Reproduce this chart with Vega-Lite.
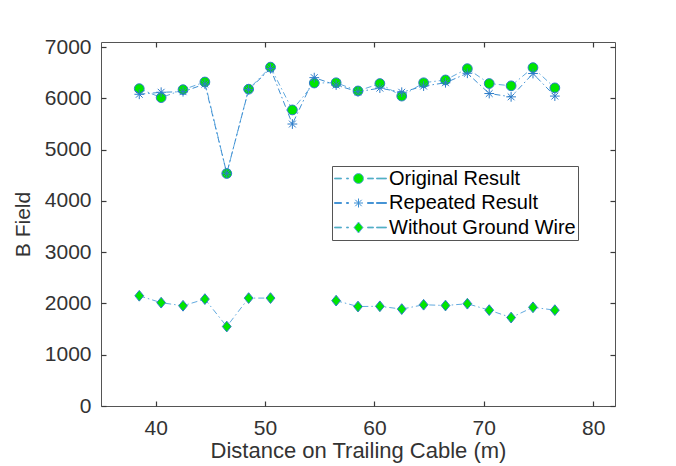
{
"$schema": "https://vega.github.io/schema/vega-lite/v6.json",
"width": 514, "height": 364,
"autosize": {"type": "none"},
"padding": {"left": 101, "top": 42, "right": 61, "bottom": 60},
"background": "white",
"config": {
  "view": {"stroke": "#555", "strokeWidth": 1},
  "font": "Liberation Sans",
  "axis": {"labelFont": "Liberation Sans", "titleFont": "Liberation Sans", "labelFontSize": 21, "titleFontSize": 21, "titleFontWeight": "normal", "labelColor": "#333", "titleColor": "#333", "domainColor": "#555", "tickColor": "#3a3a3a", "ticks": true, "tickWidth": 1.2, "zindex": 1, "grid": false}
},
"data": {"values": [
{"d":38.5,"s":"Original Result","b":6190},{"d":40.5,"s":"Original Result","b":6015},{"d":42.5,"s":"Original Result","b":6170},{"d":44.5,"s":"Original Result","b":6320},{"d":46.5,"s":"Original Result","b":4535},{"d":48.5,"s":"Original Result","b":6180},{"d":50.5,"s":"Original Result","b":6610},{"d":52.5,"s":"Original Result","b":5775},{"d":54.5,"s":"Original Result","b":6300},{"d":56.5,"s":"Original Result","b":6305},{"d":58.5,"s":"Original Result","b":6145},{"d":60.5,"s":"Original Result","b":6290},{"d":62.5,"s":"Original Result","b":6045},{"d":64.5,"s":"Original Result","b":6305},{"d":66.5,"s":"Original Result","b":6360},{"d":68.5,"s":"Original Result","b":6580},{"d":70.5,"s":"Original Result","b":6290},{"d":72.5,"s":"Original Result","b":6245},{"d":74.5,"s":"Original Result","b":6600},{"d":76.5,"s":"Original Result","b":6205},
{"d":38.5,"s":"Repeated Result","b":6080},{"d":40.5,"s":"Repeated Result","b":6120},{"d":42.5,"s":"Repeated Result","b":6130},{"d":44.5,"s":"Repeated Result","b":6280},{"d":46.5,"s":"Repeated Result","b":4540},{"d":48.5,"s":"Repeated Result","b":6170},{"d":50.5,"s":"Repeated Result","b":6580},{"d":52.5,"s":"Repeated Result","b":5500},{"d":54.5,"s":"Repeated Result","b":6405},{"d":56.5,"s":"Repeated Result","b":6260},{"d":58.5,"s":"Repeated Result","b":6130},{"d":60.5,"s":"Repeated Result","b":6200},{"d":62.5,"s":"Repeated Result","b":6120},{"d":64.5,"s":"Repeated Result","b":6240},{"d":66.5,"s":"Repeated Result","b":6305},{"d":68.5,"s":"Repeated Result","b":6490},{"d":70.5,"s":"Repeated Result","b":6095},{"d":72.5,"s":"Repeated Result","b":6030},{"d":74.5,"s":"Repeated Result","b":6485},{"d":76.5,"s":"Repeated Result","b":6045},
{"d":38.5,"s":"Without Ground Wire","b":2150},{"d":40.5,"s":"Without Ground Wire","b":2015},{"d":42.5,"s":"Without Ground Wire","b":1955},{"d":44.5,"s":"Without Ground Wire","b":2085},{"d":46.5,"s":"Without Ground Wire","b":1550},{"d":48.5,"s":"Without Ground Wire","b":2105},{"d":50.5,"s":"Without Ground Wire","b":2105},{"d":52.5,"s":"Without Ground Wire","b":null},{"d":54.5,"s":"Without Ground Wire","b":null},{"d":56.5,"s":"Without Ground Wire","b":2055},{"d":58.5,"s":"Without Ground Wire","b":1940},{"d":60.5,"s":"Without Ground Wire","b":1945},{"d":62.5,"s":"Without Ground Wire","b":1890},{"d":64.5,"s":"Without Ground Wire","b":1975},{"d":66.5,"s":"Without Ground Wire","b":1960},{"d":68.5,"s":"Without Ground Wire","b":1995},{"d":70.5,"s":"Without Ground Wire","b":1870},{"d":72.5,"s":"Without Ground Wire","b":1725},{"d":74.5,"s":"Without Ground Wire","b":1925},{"d":76.5,"s":"Without Ground Wire","b":1870}
]},
"layer": [
 {
  "mark": {"type": "line", "strokeWidth": 1, "strokeDash": [6, 3, 1.5, 3]},
  "encoding": {
   "x": {"field": "d", "type": "quantitative", "scale": {"domain": [35, 82], "nice": false, "zero": false},
         "axis": {"orient": "bottom", "offset": -5, "domain": false, "values": [40, 50, 60, 70, 80], "title": "Distance on Trailing Cable (m)", "titleFontSize": 22, "tickSize": 5, "labelPadding": 11, "titlePadding": 2}},
   "y": {"field": "b", "type": "quantitative", "scale": {"domain": [0, 7100], "nice": false},
         "axis": {"orient": "left", "offset": -5, "domain": false, "format": "d", "values": [0, 1000, 2000, 3000, 4000, 5000, 6000, 7000], "title": "B Field", "tickSize": 5, "labelPadding": 10, "titlePadding": 11}},
   "color": {"field": "s", "type": "nominal", "scale": {"domain": ["Original Result", "Repeated Result", "Without Ground Wire"], "range": ["#62aadf", "#3d8fd3", "#62aadf"]},
     "legend": {"orient": "none", "legendX": 231, "legendY": 124, "title": null, "symbolSize": 400, "symbolStrokeWidth": 1, "labelFontSize": 20, "labelFont": "Liberation Sans", "labelColor": "#000", "strokeColor": "#555", "fillColor": "white", "padding": 2, "rowPadding": 3.5, "labelOffset": 34, "labelLimit": 300,
       "encode": {"symbols": {"update": {
         "shape": {"signal": "datum.value === 'Original Result' ? 'M-1,-0.04H-0.3V0.04H-1ZM0.2,-0.04H0.4V0.04H0.2ZM1.9,0A0.5,0.5,0,1,1,0.9,0A0.5,0.5,0,1,1,1.9,0ZM2.3,-0.04H2.9V0.04H2.3ZM3.2,-0.04H4.2V0.04H3.2Z' : datum.value === 'Repeated Result' ? 'M-1,-0.04H-0.3V0.04H-1ZM0.2,-0.04H0.4V0.04H0.2ZM0.95,0H1.85M1.4,-0.45V0.45M1.08,-0.32L1.72,0.32M1.08,0.32L1.72,-0.32M2.3,-0.04H2.9V0.04H2.3ZM3.2,-0.04H4.2V0.04H3.2Z' : 'M-1,-0.04H-0.3V0.04H-1ZM0.2,-0.04H0.4V0.04H0.2ZM1.4,-0.55L1.85,0L1.4,0.55L0.95,0ZM2.3,-0.04H2.9V0.04H2.3ZM3.2,-0.04H4.2V0.04H3.2Z'"},
         "fill": {"signal": "datum.value === 'Repeated Result' ? '#4a98d8' : '#00e600'"},
         "stroke": {"value": "#2d7cc9"},
         "strokeWidth": {"value": 1},
         "strokeDash": {"value": []},
         "size": {"value": 400},
         "opacity": {"value": 1}
       }}}}
   }
  }
 },
 {
  "mark": {"type": "point", "opacity": 1, "strokeWidth": 1, "stroke": "#2d7cc9", "size": 95},
  "encoding": {
   "x": {"field": "d", "type": "quantitative", "axis": {"orient": "top", "offset": -5, "values": [40, 50, 60, 70, 80], "labels": false, "title": null, "tickSize": 5, "domain": false}},
   "y": {"field": "b", "type": "quantitative", "axis": {"orient": "right", "offset": -5, "values": [0, 1000, 2000, 3000, 4000, 5000, 6000, 7000], "labels": false, "title": null, "tickSize": 5, "domain": false}},
   "fill": {"field": "s", "type": "nominal", "scale": {"domain": ["Without Ground Wire", "Original Result", "Repeated Result"], "range": ["#00e600", "#00e600", "transparent"]}, "legend": null},
   "shape": {"field": "s", "type": "nominal", "scale": {"domain": ["Without Ground Wire", "Original Result", "Repeated Result"], "range": ["M0,-1.1L0.9,0L0,1.1L-0.9,0Z", "circle", "M-1,0H1M0,-1V1M-0.7,-0.7L0.7,0.7M-0.7,0.7L0.7,-0.7"]}, "legend": null}
  }
 }
],
"resolve": {"axis": {"x": "independent", "y": "independent"}}
}
